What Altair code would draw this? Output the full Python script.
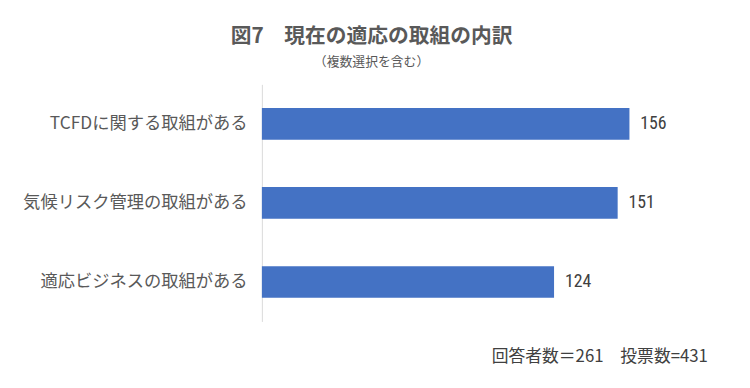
import altair as alt
import pandas as pd

categories = ["TCFDに関する取組がある", "気候リスク管理の取組がある", "適応ビジネスの取組がある"]
values = [156, 151, 124]
title_text = "図7　現在の適応の取組の内訳"
subtitle_text = "（複数選択を含む）"
footer_text = "回答者数＝261　投票数=431"

df = pd.DataFrame({"cat": categories, "val": values})

jp = "Noto Sans CJK JP"

base = alt.Chart(df).encode(
    y=alt.Y("cat:N", sort=categories,
            scale=alt.Scale(paddingInner=0.6, paddingOuter=0.3),
            axis=alt.Axis(title=None, ticks=False, domain=True, domainColor="#d9d9d9",
                          domainWidth=1, labelFontSize=17.5, labelColor="#595959",
                          labelFont=jp, labelPadding=15, labelLimit=0)),
    x=alt.X("val:Q", scale=alt.Scale(domain=[0, 187], nice=False),
            axis=alt.Axis(title=footer_text, labels=False, ticks=False, domain=False,
                          grid=False, titleX=451, titleAlign="right", titleFont=jp,
                          titleFontSize=17, titleFontWeight="normal",
                          titleColor="#404040", titlePadding=28)),
)

bars = base.mark_bar(color="#4472C4")
labels = base.mark_text(align="left", baseline="middle", dx=11, fontSize=18,
                        font="Liberation Sans Narrow, Roboto Condensed, DejaVu Sans Condensed",
                        color="#404040").encode(text="val:Q")

chart = (bars + labels).properties(
    width=446, height=240,
    title=alt.TitleParams(text=title_text, subtitle=subtitle_text, anchor="middle",
                          dx=-112, font=jp, fontSize=21, fontWeight="bold",
                          color="#595959", subtitleFont=jp, subtitleFontSize=13,
                          subtitleColor="#595959", offset=16, subtitlePadding=9),
    autosize=alt.AutoSizeParams(type="none"),
    padding={"left": 257, "top": 75, "right": 40, "bottom": 60},
).configure_view(stroke=None)

chart.save("out.html", embed_options={"renderer": "svg", "actions": False})
